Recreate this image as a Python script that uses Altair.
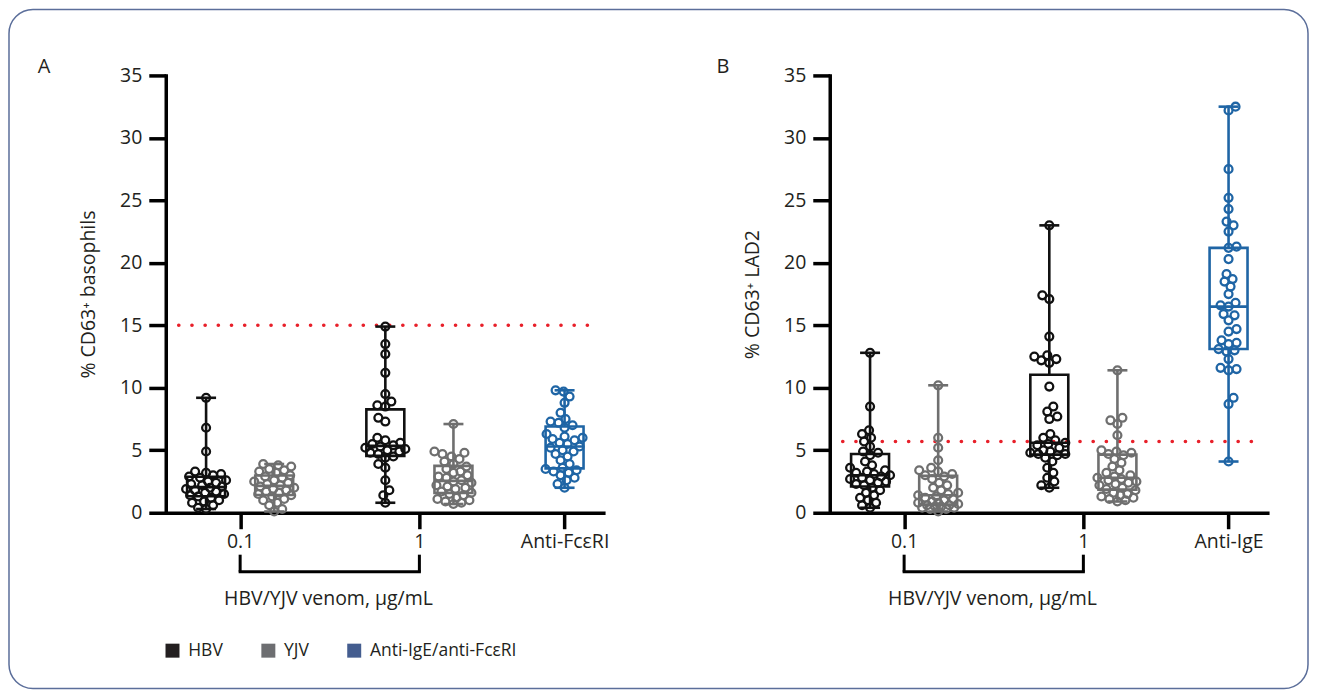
import math
import altair as alt
import pandas as pd

FONT = "Open Sans"
TXT = "#231f20"
FRAME = "#5b6e9a"
RED = "#e8202a"

# ---------------- categories / labels ----------------
SERIES = ["HBV", "YJV", "Anti"]
SERIES_COLORS = ["#111111", "#6f6f6f", "#1f65a5"]
LEGEND_NAMES = ["HBV", "YJV", "Anti-IgE/anti-FcεRI"]
LEGEND_COLORS = ["#231f20", "#6d6e71", "#445d8f"]
X_LABELS_A = ["0.1", "1", "Anti-FcεRI"]
X_LABELS_B = ["0.1", "1", "Anti-IgE"]
Y_TICKS = [0, 5, 10, 15, 20, 25, 30, 35]
Y_TITLE_A = "% CD63⁺ basophils"
Y_TITLE_B = "% CD63⁺ LAD2"
X_TITLE = "HBV/YJV venom, μg/mL"

# ---------------- values ----------------
A_HBV_01 = [9.2, 6.8, 4.9, 3.3, 3.2, 3.1, 3.0, 2.9, 2.8, 2.6, 2.5, 2.4, 2.3, 2.2, 2.1,
            2.0, 1.9, 1.8, 1.7, 1.6, 1.5, 1.4, 1.3, 1.2, 1.0, 0.9, 0.8, 0.6, 0.4, 0.3]
A_YJV_01 = [3.9, 3.8, 3.7, 3.5, 3.4, 3.3, 3.2, 3.0, 2.9, 2.8, 2.6, 2.5, 2.4, 2.3, 2.2,
            2.1, 2.0, 1.9, 1.8, 1.7, 1.6, 1.5, 1.4, 1.3, 1.1, 1.0, 0.8, 0.6, 0.3, 0.1]
A_HBV_1 = [14.9, 13.5, 12.7, 11.2, 9.5, 8.9, 8.6, 8.5, 7.6, 7.3, 6.0, 5.8, 5.6, 5.5, 5.4,
           5.3, 5.2, 5.1, 5.0, 4.9, 4.8, 4.7, 4.5, 4.4, 3.9, 3.6, 2.6, 1.8, 1.4, 0.8]
A_YJV_1 = [7.1, 4.9, 4.8, 4.7, 4.5, 4.3, 4.1, 3.9, 3.7, 3.5, 3.3, 3.2, 3.0, 2.9, 2.8, 2.6,
           2.5, 2.4, 2.2, 2.1, 2.0, 1.9, 1.7, 1.6, 1.5, 1.4, 1.2, 1.1, 1.0, 0.9, 0.8, 0.7]
A_ANTI = [9.8, 9.7, 9.3, 8.8, 8.0, 7.5, 7.3, 7.2, 7.0, 6.8, 6.3, 6.1, 6.0, 5.9, 5.8,
          5.6, 5.5, 5.3, 5.2, 5.0, 4.9, 4.7, 4.5, 4.2, 3.9, 3.6, 3.5, 3.4, 3.3, 3.2,
          3.0, 2.8, 2.6, 2.3, 2.0]

B_HBV_01 = [12.8, 8.5, 6.6, 6.3, 6.0, 5.7, 5.3, 4.9, 4.8, 4.6, 4.1, 3.8, 3.6, 3.4, 3.3,
            3.2, 3.1, 3.0, 2.9, 2.8, 2.7, 2.6, 2.5, 2.4, 2.3, 2.2, 2.0, 1.8, 1.6, 1.4,
            1.2, 1.0, 0.8, 0.6, 0.4]
B_YJV_01 = [10.2, 6.0, 5.2, 4.2, 3.6, 3.4, 3.3, 3.1, 3.0, 2.9, 2.7, 2.4, 2.2, 2.0, 1.8,
            1.6, 1.5, 1.4, 1.3, 1.2, 1.1, 1.0, 0.9, 0.8, 0.8, 0.7, 0.6, 0.6, 0.5, 0.5,
            0.4, 0.4, 0.3, 0.3, 0.1]
B_HBV_1 = [23.0, 17.4, 17.1, 14.1, 12.6, 12.5, 12.3, 12.2, 12.0, 10.1, 8.5, 8.1, 7.7, 7.5,
           6.3, 6.0, 5.8, 5.6, 5.5, 5.4, 5.2, 5.0, 4.9, 4.8, 4.7, 4.7, 4.6, 4.4, 4.1, 3.6,
           3.2, 2.8, 2.5, 2.2, 2.0]
B_YJV_1 = [11.4, 7.6, 7.4, 7.1, 6.2, 5.0, 4.9, 4.8, 4.7, 4.6, 4.3, 4.0, 3.7, 3.4, 3.2,
           3.0, 2.9, 2.8, 2.7, 2.6, 2.5, 2.4, 2.3, 2.2, 2.0, 1.9, 1.8, 1.6, 1.5, 1.4,
           1.3, 1.2, 1.1, 1.0, 0.9]
B_ANTI = [32.5, 32.2, 27.5, 25.2, 24.3, 23.3, 23.0, 22.5, 21.3, 21.2, 20.3, 19.1, 18.7,
          18.5, 18.1, 17.5, 16.8, 16.6, 16.5, 15.9, 15.8, 15.4, 14.7, 14.5, 13.8, 13.6,
          13.5, 13.1, 13.0, 12.9, 12.3, 11.6, 11.5, 11.4, 9.2, 8.7, 4.1]

THRESHOLD_A = 15.0
THRESHOLD_B = 5.7

# ---------------- layout ----------------
W, H = 440, 438
XDOM = [0.585, 3.036]
YDOM = [0, 35]
POS_LOW, POS_HIGH, POS_CTRL = 1.0, 2.0, 2.81
SHIFT = 0.19
PX_X = W / (XDOM[1] - XDOM[0])
PX_Y = H / (YDOM[1] - YDOM[0])
BOX_HALF = 19 / PX_X
CAP_HALF = 10 / PX_X


def swarm(vals, flip, d=7.6, maxw=20):
    ys = [v * PX_Y for v in vals]
    order = sorted(range(len(vals)), key=lambda i: ys[i])
    placed = []
    offs = [0.0] * len(vals)
    cands = [0]
    for k in range(1, maxw + 1):
        cands += ([-k, k] if flip else [k, -k])
    for n, i in enumerate(order):
        y = ys[i]
        best, bestc, bestscore = None, 0, -1.0
        cc = cands if n % 2 == 0 else [-c for c in cands]
        for c in cc:
            m = min([math.hypot(c - px, y - py) for px, py in placed] or [1e9])
            if m >= d:
                best = c
                break
            if m > bestscore:
                bestscore, bestc = m, c
        if best is None:
            best = bestc
        offs[i] = best
        placed.append((best, y))
    return offs


def build(groups):
    rows = []
    for gi, (s, c, vals) in enumerate(groups):
        offs = swarm(vals, gi % 2 == 1)
        for v, o in zip(vals, offs):
            rows.append(dict(grp=gi, series=s, pos=c, value=v, x=c + o / PX_X))
    return pd.DataFrame(rows)


df_a = build([("HBV", POS_LOW - SHIFT, A_HBV_01), ("YJV", POS_LOW + SHIFT, A_YJV_01),
              ("HBV", POS_HIGH - SHIFT, A_HBV_1), ("YJV", POS_HIGH + SHIFT, A_YJV_1),
              ("Anti", POS_CTRL, A_ANTI)])
df_b = build([("HBV", POS_LOW - SHIFT, B_HBV_01), ("YJV", POS_LOW + SHIFT, B_YJV_01),
              ("HBV", POS_HIGH - SHIFT, B_HBV_1), ("YJV", POS_HIGH + SHIFT, B_YJV_1),
              ("Anti", POS_CTRL, B_ANTI)])
one = pd.DataFrame({"k": [0]})


def panel(df, labels, ytitle, letter, letter_x, threshold, extras):
    xs = alt.Scale(domain=XDOM, nice=False, zero=False)
    ys = alt.Scale(domain=YDOM, nice=False)
    ss = alt.Scale(domain=SERIES, range=SERIES_COLORS)
    stroke = alt.Stroke("series:N", scale=ss, legend=None)
    expr = (f"datum.value < 1.5 ? '{labels[0]}' : datum.value < 2.5 ? "
            f"'{labels[1]}' : '{labels[2]}'")
    xaxis = alt.Axis(values=[POS_LOW, POS_HIGH, POS_CTRL], labelExpr=expr, grid=False,
                     domainColor="black", domainWidth=3.5, tickColor="black",
                     tickWidth=3.5, tickSize=16, labelFontSize=19.5, labelFont=FONT,
                     labelColor=TXT, labelPadding=4, labelFlush=False,
                     labelOverlap=False, title=X_TITLE, titleFontSize=19.5,
                     titleFont=FONT, titleFontWeight="normal", titleColor=TXT,
                     titleX=162.5, titleY=86, titleAlign="center",
                     titleBaseline="middle")
    yaxis = alt.Axis(values=Y_TICKS, grid=False, domainColor="black", domainWidth=3.5,
                     tickColor="black", tickWidth=3.5, tickSize=17, labelFontSize=19.5,
                     labelFont=FONT, labelColor=TXT, labelPadding=7, title=ytitle,
                     titleFontSize=19.5, titleFont=FONT, titleFontWeight="normal",
                     titleColor=TXT, titleX=-77, titleY=H / 2, titleAngle=-90,
                     titleAlign="center", titleBaseline="middle", domainCap="square")

    base = alt.Chart(df)
    stats = base.transform_aggregate(
        q1="q1(value)", q3="q3(value)", med="median(value)", lo="min(value)",
        hi="max(value)", groupby=["grp", "series", "pos"]
    ).transform_calculate(
        xl=f"datum.pos - {BOX_HALF}", xr=f"datum.pos + {BOX_HALF}",
        cl=f"datum.pos - {CAP_HALF}", cr=f"datum.pos + {CAP_HALF}"
    )
    X = lambda f: alt.X(f, scale=xs, axis=xaxis)
    Y = lambda f: alt.Y(f, scale=ys, axis=yaxis)

    layers = []
    if extras:
        layers.append(alt.Chart(one).mark_rect(
            fillOpacity=0, stroke=FRAME, strokeWidth=1.5, cornerRadius=24
        ).encode(x=alt.value(-157), x2=alt.value(1144), y=alt.value(-66),
                 y2=alt.value(614)))
    layers.append(alt.Chart(one).mark_rule(
        color=RED, strokeWidth=3.6, strokeDash=[0.1, 13.1], strokeCap="round"
    ).encode(x=alt.value(13), x2=alt.value(435),
             y=alt.YDatum(threshold, scale=ys, axis=yaxis)))
    layers.append(stats.mark_rule(strokeWidth=2.6).encode(
        x=X("pos:Q"), y=Y("lo:Q"), y2="q1:Q", stroke=stroke))
    layers.append(stats.mark_rule(strokeWidth=2.6).encode(
        x=X("pos:Q"), y=Y("q3:Q"), y2="hi:Q", stroke=stroke))
    layers.append(stats.mark_rect(fillOpacity=0, strokeWidth=2.6).encode(
        x=X("xl:Q"), x2="xr:Q", y=Y("q1:Q"), y2="q3:Q", stroke=stroke))
    layers.append(stats.mark_rule(strokeWidth=2.6).encode(
        x=X("xl:Q"), x2="xr:Q", y=Y("med:Q"), stroke=stroke))
    layers.append(stats.mark_rule(strokeWidth=2.6).encode(
        x=X("cl:Q"), x2="cr:Q", y=Y("lo:Q"), stroke=stroke))
    layers.append(stats.mark_rule(strokeWidth=2.6).encode(
        x=X("cl:Q"), x2="cr:Q", y=Y("hi:Q"), stroke=stroke))
    layers.append(base.mark_point(shape="circle", filled=False, size=62, strokeWidth=2.3,
                                  opacity=1).encode(
        x=X("x:Q"), y=Y("value:Q"), stroke=stroke))
    # bracket under the concentration labels
    layers.append(alt.Chart(one).mark_rule(strokeWidth=3, color="black", strokeCap="square").encode(
        x=alt.XDatum(POS_LOW, scale=xs, axis=xaxis), x2=alt.X2Datum(POS_HIGH), y=alt.value(497)))
    for p in (POS_LOW, POS_HIGH):
        layers.append(alt.Chart(one).mark_rule(strokeWidth=3, color="black").encode(
            x=alt.XDatum(p, scale=xs, axis=xaxis), y=alt.value(480), y2=alt.value(497)))
    layers.append(alt.Chart(one).mark_text(
        text=letter, fontSize=20, font=FONT, color=TXT, align="center", baseline="alphabetic"
    ).encode(x=alt.value(letter_x), y=alt.value(-2)))
    if extras:
        layers.append(alt.Chart(pd.DataFrame({"name": LEGEND_NAMES})).mark_square(
            size=10, opacity=0).encode(
            x=alt.value(0), y=alt.value(0),
            fill=alt.Fill("name:N", scale=alt.Scale(domain=LEGEND_NAMES, range=LEGEND_COLORS),
                          legend=alt.Legend(title=None, orient="none", legendX=-2, legendY=567,
                                            direction="horizontal", symbolType="square",
                                            symbolSize=196, symbolStrokeWidth=0,
                                            symbolOpacity=1, labelFontSize=17.5,
                                            labelFont=FONT, labelColor=TXT, labelOffset=7,
                                            columnPadding=36, padding=0))))
    return alt.layer(*layers).properties(width=W, height=H)


pa = panel(df_a, X_LABELS_A, Y_TITLE_A, "A", -122, THRESHOLD_A, True)
pb = panel(df_b, X_LABELS_B, Y_TITLE_B, "B", -107, THRESHOLD_B, False)

chart = alt.hconcat(pa, pb, spacing=225, bounds="flush").resolve_scale(
    fill="independent").resolve_legend(fill="independent").configure(
    font=FONT).configure_view(strokeWidth=0).properties(padding=0, background="white")

chart.save("out.html", embed_options={"renderer": "svg", "actions": False})
